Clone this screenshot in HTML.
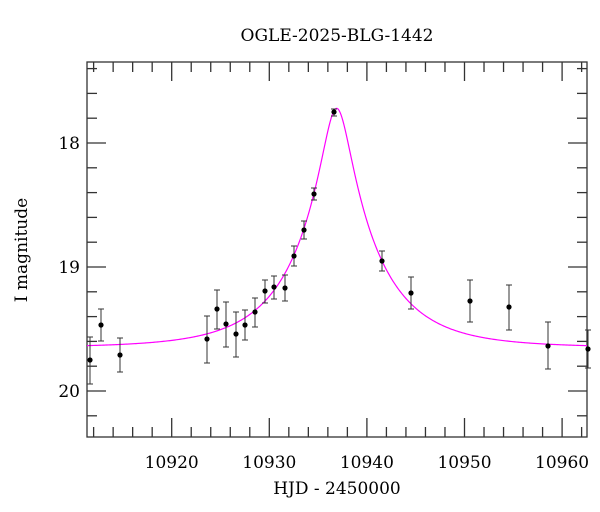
<!DOCTYPE html>
<html><head><meta charset="utf-8"><style>
body{margin:0;background:#fff}
svg{display:block;font-family:"DejaVu Serif","Liberation Serif",serif}
</style></head><body>
<svg id="s" width="600" height="512" viewBox="0 0 600 512">
<rect width="600" height="512" fill="#fff"/>
<text x="337" y="41" text-anchor="middle" font-size="17">OGLE-2025-BLG-1442</text>
<text x="337" y="494" text-anchor="middle" font-size="17">HJD - 2450000</text>
<text transform="translate(27,250) rotate(-90)" text-anchor="middle" font-size="17">I magnitude</text>
<g id="ax" stroke="#333" stroke-width="1.3" fill="none"></g>
<g id="lab" font-size="17"></g>
<path id="curve" fill="none" stroke="#ff00ff" stroke-width="1.2"/>
<g id="pts"></g>
</svg>
<script>
var L=87,R=587,T=62,B=437;
function X(t){return 171.7+(t-10920)*9.76}
function Y(m){return 143+(m-18)*124}
var ax=document.getElementById('ax'),lab=document.getElementById('lab'),s='';
s+='<rect x="'+L+'" y="'+T+'" width="'+(R-L)+'" height="'+(B-T)+'"/>';
for(var t=10912;t<=10962;t+=2){var x=X(t),len=(t%10==0)?19:10;
 s+='<line x1="'+x+'" y1="'+B+'" x2="'+x+'" y2="'+(B-len)+'"/><line x1="'+x+'" y1="'+T+'" x2="'+x+'" y2="'+(T+len)+'"/>';
 if(t%10==0) lab.innerHTML+='<text x="'+x+'" y="468" text-anchor="middle">'+t+'</text>';}
for(var i=0;i<=15;i++){var m=17.4+i*0.2,y=Y(m);if(y<T||y>B)continue;var maj=Math.abs(m-Math.round(m))<0.01,len=maj?19:10;
 s+='<line x1="'+L+'" y1="'+y+'" x2="'+(L+len)+'" y2="'+y+'"/><line x1="'+R+'" y1="'+y+'" x2="'+(R-len)+'" y2="'+y+'"/>';
 if(maj) lab.innerHTML+='<text x="80" y="'+(y+6)+'" text-anchor="end">'+Math.round(m)+'</text>';}
ax.innerHTML=s;
var t0=10936.9,u0=0.171,tE=8.2,base=19.65,d='';
for(var x=L;x<=R;x+=1){var t=10920+(x-171.7)/9.76,tau=(t-t0)/tE,u=Math.sqrt(u0*u0+tau*tau),A=(u*u+2)/(u*Math.sqrt(u*u+4));
 var y=Y(base-2.5*Math.log10(A));d+=(x==L?'M':'L')+x+','+y.toFixed(2);}
document.getElementById('curve').setAttribute('d',d);
var P=[[90,360,337,384],[101,325,309,341],[120,355,338,372],[207,339,316,363],[217,309,290,329],[226,324,302,347],[236,334,312,357],[245,325,310,340],[255,312,298,327],[265,291,280,303],[274,287,276,299],[285,288,275,301],[294,256,246,266],[304,230,221,239],[314,194,188,200],[334,112,109,116],[382,261,251,271],[411,293,277,309],[470,301,280,322],[509,307,285,330],[548,346,322,369],[588,349,330,368]];
var g='';P.forEach(function(p){
 g+='<line x1="'+p[0]+'" y1="'+p[2]+'" x2="'+p[0]+'" y2="'+p[3]+'" stroke="#333" stroke-width="1"/>';
 g+='<line x1="'+(p[0]-3)+'" y1="'+p[2]+'" x2="'+(p[0]+3)+'" y2="'+p[2]+'" stroke="#333" stroke-width="1"/>';
 g+='<line x1="'+(p[0]-3)+'" y1="'+p[3]+'" x2="'+(p[0]+3)+'" y2="'+p[3]+'" stroke="#333" stroke-width="1"/>';
 g+='<circle cx="'+p[0]+'" cy="'+p[1]+'" r="2.6" fill="#000"/>';});
document.getElementById('pts').innerHTML=g;
</script>
</body></html>
